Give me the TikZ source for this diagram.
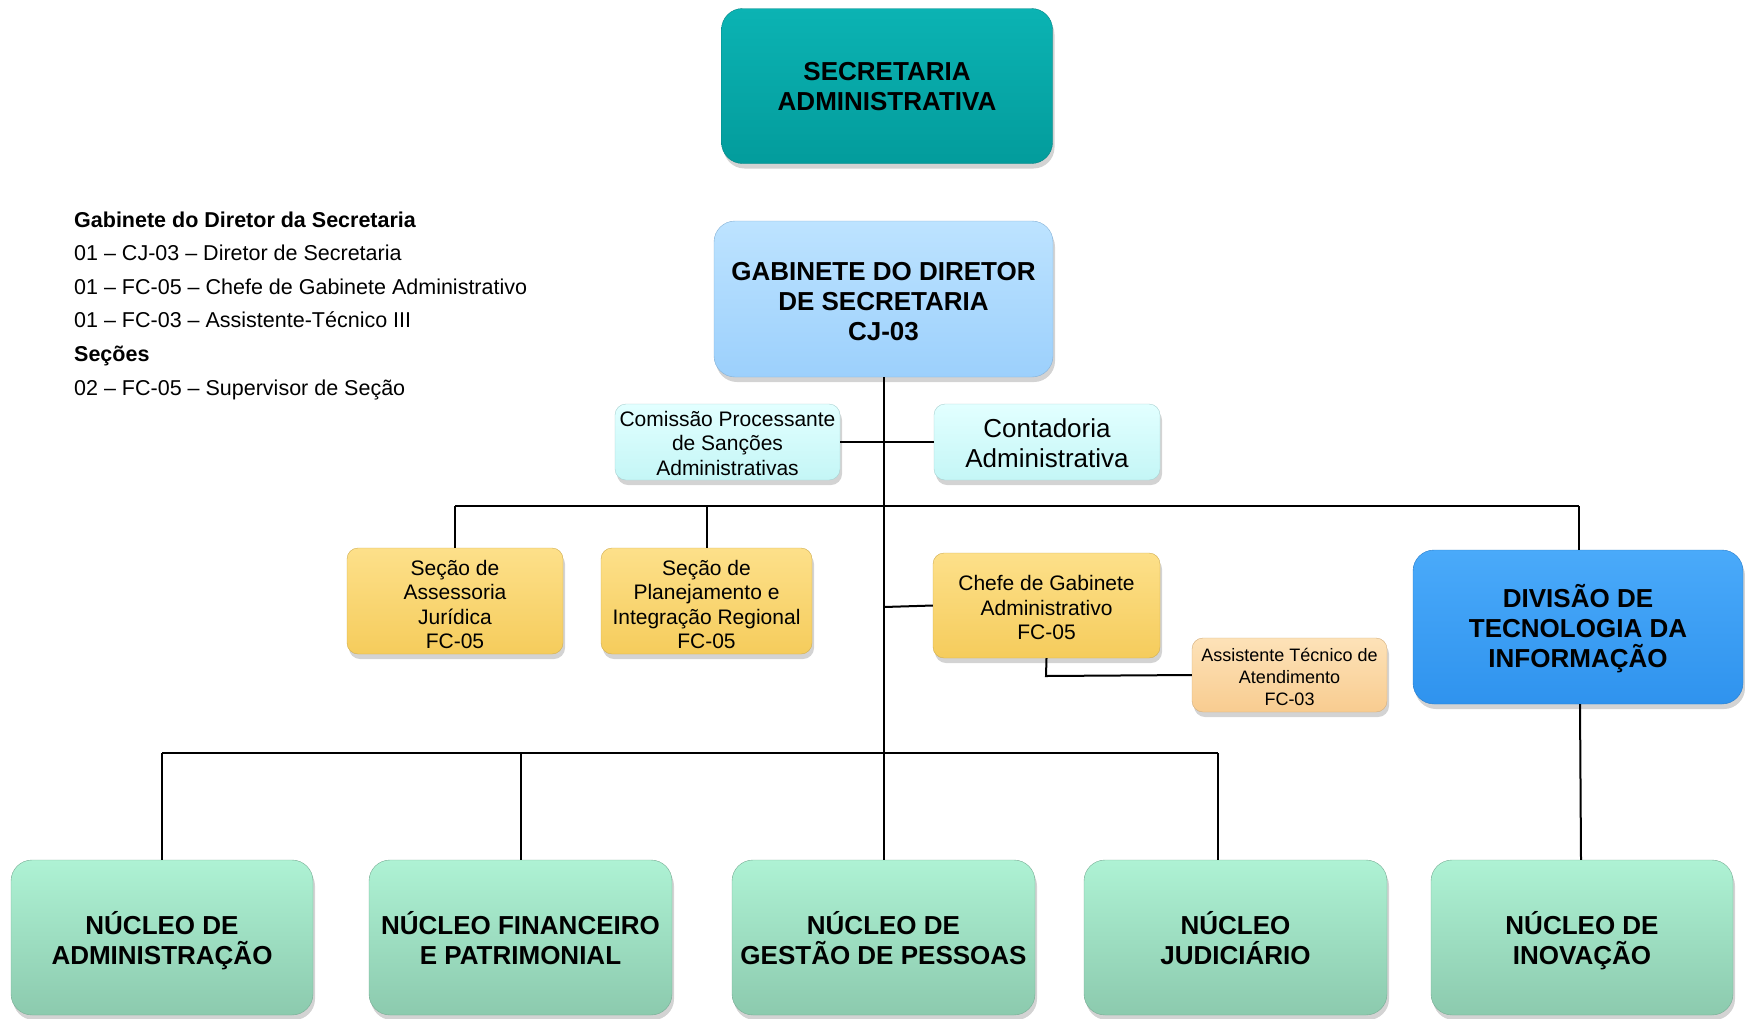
\documentclass[tikz,border=0pt]{standalone}
\usepackage{fontspec}
\setmainfont{Liberation Sans}
\usetikzlibrary{shadows}
\definecolor{tealA}{HTML}{0BB3B3}
\definecolor{tealB}{HTML}{039C9C}
\definecolor{gabA}{HTML}{BDE3FF}
\definecolor{gabB}{HTML}{9CD0FC}
\definecolor{cyanA}{HTML}{E2FFFF}
\definecolor{cyanB}{HTML}{C4F6F6}
\definecolor{yelA}{HTML}{FDE08A}
\definecolor{yelB}{HTML}{F5CC5C}
\definecolor{pchA}{HTML}{FDE2B8}
\definecolor{pchB}{HTML}{F8CC90}
\definecolor{divA}{HTML}{4AAAFA}
\definecolor{divB}{HTML}{2F93EE}
\definecolor{grnA}{HTML}{AEF2D4}
\definecolor{grnB}{HTML}{8CCAAE}
\newcommand{\evenph}{\vphantom{ÃÇ}}
\newcommand{\lift}[1]{\rule{0pt}{#1}}
\tikzset{
  box/.style={rounded corners=21pt, inner sep=0pt, align=center, text=black,
    execute at end node=\evenph,
    drop shadow={opacity=0.35, shadow xshift=2pt, shadow yshift=-5pt}},
  smallbox/.style={box, rounded corners=11pt},
  bigtxt/.style={font=\fontsize{26}{30}\selectfont\bfseries},
  midtxt/.style={font=\fontsize{21}{24.5}\selectfont},
  conn/.style={draw=black, line width=2pt},
  legend/.style={anchor=base west, inner sep=0pt, font=\fontsize{21.5}{24}\selectfont}
}
\begin{document}
\begin{tikzpicture}[x=1pt,y=-1pt]
\useasboundingbox (0,0) rectangle (1745,1018);
\coordinate (barL) at (455,506);
\coordinate (barP) at (707,506);
\coordinate (barR) at (1579,506);
\coordinate (chefeJ) at (884,607);
\coordinate (lowL) at (162,753);
\coordinate (lowF) at (521,753);
\coordinate (lowR) at (1218,753);
\coordinate (lowRdrop) at (1218,860);
\coordinate (asstJ) at (1046,676);

% Nodes
\node[box, bigtxt, top color=tealA, bottom color=tealB, draw=tealB!85!black, minimum width=331pt, minimum height=155pt] (sec) at (887,86) {\lift{24.5pt}SECRETARIA\\ADMINISTRATIVA};
\node[box, bigtxt, top color=gabA, bottom color=gabB, draw=gabB!85!black, minimum width=339pt, minimum height=156pt] (gab) at (883.5,299) {\lift{28.5pt}GABINETE DO DIRETOR\\DE SECRETARIA\\CJ-03};
\node[smallbox, midtxt, top color=cyanA, bottom color=cyanB, draw=cyanB!85!black, minimum width=225pt, minimum height=76pt] (com) at (727.5,442) {\lift{21.5pt}Comissão Processante\\de Sanções\\Administrativas};
\node[smallbox, font=\fontsize{26}{30}\selectfont, top color=cyanA, bottom color=cyanB, draw=cyanB!85!black, minimum width=226pt, minimum height=76pt] (con) at (1047,442) {\lift{26pt}Contadoria\\Administrativa};
\node[smallbox, midtxt, top color=yelA, bottom color=yelB, draw=yelB!85!black, minimum width=216pt, minimum height=106pt] (sa) at (455,601) {\lift{26pt}Seção de\\Assessoria\\Jurídica\\FC-05};
\node[smallbox, midtxt, top color=yelA, bottom color=yelB, draw=yelB!85!black, minimum width=211pt, minimum height=106pt] (sp) at (706.5,601) {\lift{26pt}Seção de\\Planejamento e\\Integração Regional\\FC-05};
\node[smallbox, midtxt, top color=yelA, bottom color=yelB, draw=yelB!85!black, minimum width=227pt, minimum height=105pt] (chefe) at (1046.5,605.5) {\lift{23.5pt}Chefe de Gabinete\\Administrativo\\FC-05};
\node[smallbox, font=\fontsize{18}{21.7}\selectfont, top color=pchA, bottom color=pchB, draw=pchB!85!black, minimum width=195pt, minimum height=74pt] (asst) at (1289.5,675) {\lift{21pt}Assistente Técnico de\\Atendimento\\FC-03};
\node[box, bigtxt, top color=divA, bottom color=divB, draw=divB!85!black, minimum width=330pt, minimum height=154pt] (div) at (1578,627) {\lift{25.5pt}DIVISÃO DE\\TECNOLOGIA DA\\INFORMAÇÃO};
\node[box, bigtxt, top color=grnA, bottom color=grnB, draw=grnB!85!black, minimum width=302pt, minimum height=155pt] (n1) at (162,937.5) {\lift{29pt}NÚCLEO DE\\ADMINISTRAÇÃO};
\node[box, bigtxt, top color=grnA, bottom color=grnB, draw=grnB!85!black, minimum width=303pt, minimum height=155pt] (n2) at (520.5,937.5) {\lift{29pt}NÚCLEO FINANCEIRO\\E PATRIMONIAL};
\node[box, bigtxt, top color=grnA, bottom color=grnB, draw=grnB!85!black, minimum width=303pt, minimum height=155pt] (n3) at (883.5,937.5) {\lift{29pt}NÚCLEO DE\\GESTÃO DE PESSOAS};
\node[box, bigtxt, top color=grnA, bottom color=grnB, draw=grnB!85!black, minimum width=303pt, minimum height=155pt] (n4) at (1235.5,937.5) {\lift{29pt}NÚCLEO\\JUDICIÁRIO};
\node[box, bigtxt, top color=grnA, bottom color=grnB, draw=grnB!85!black, minimum width=302pt, minimum height=155pt] (n5) at (1582,937.5) {\lift{29pt}NÚCLEO DE\\INOVAÇÃO};

% Connectors
\draw[conn] (gab.south) -- (n3.north);
\draw[conn] (com.east) -- (con.west);
\draw[conn] (barL) -- (barR);
\draw[conn] (barL) -- (sa.north);
\draw[conn] (barP) -- (sp.north -| barP);
\draw[conn] (barR) -- (div.north -| barR);
\draw[conn] (chefeJ) -- (chefe.west);
\draw[conn] (chefe.south) -- (asstJ) -- (asst.west);
\draw[conn] (lowL) -- (lowR);
\draw[conn] (lowL) -- (n1.north);
\draw[conn] (lowF) -- (n2.north -| lowF);
\draw[conn] (lowR) -- (lowRdrop);
\draw[conn] (div.south -| 1580,0) -- (n5.north -| 1581,0);

% Legend
\node[legend, font=\fontsize{21.5}{24}\selectfont\bfseries] (l1) at (74,227) {Gabinete do Diretor da Secretaria};
\node[legend] (l2) at (74,260.6) {01 – CJ-03 – Diretor de Secretaria};
\node[legend] (l3) at (74,294.2) {01 – FC-05 – Chefe de Gabinete Administrativo};
\node[legend] (l4) at (74,327.8) {01 – FC-03 – Assistente-Técnico III};
\node[legend, font=\fontsize{21.5}{24}\selectfont\bfseries] (l5) at (74,361.4) {Seções};
\node[legend] (l6) at (74,395) {02 – FC-05 – Supervisor de Seção};
\end{tikzpicture}
\end{document}
